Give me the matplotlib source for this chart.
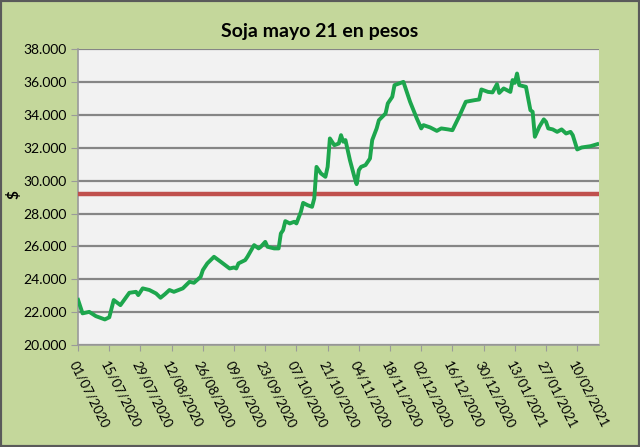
import pandas as pd
import matplotlib.pyplot as plt
import matplotlib.dates as mdates
from matplotlib.patches import Rectangle

plt.rcParams['font.family'] = ['Lato', 'DejaVu Sans']

start = pd.Timestamp('2020-07-01')

# days since 01/07/2020 and price in pesos
days = [0, 2, 5, 8, 12, 14, 16, 19, 23, 26, 27, 29, 32, 35, 37, 39, 41, 43, 47,
        50, 52, 55, 56, 58, 61, 64, 68, 70, 71, 72, 75, 76, 79, 81, 82, 84, 85,
        88, 90, 91, 92, 93, 95, 97, 98, 100, 101, 103, 105, 106, 107, 109, 111,
        112, 113, 115, 117, 118, 119, 120, 122, 124, 125, 126, 127, 129, 131,
        132, 134, 135, 138, 139, 141, 142, 146, 149, 152, 154, 155, 158, 161,
        163, 166, 168, 171, 174, 178, 180, 181, 184, 186, 188, 189, 191, 194,
        195, 196, 197, 198, 201, 203, 204, 205, 207, 209, 210, 211, 213, 215,
        217, 219, 221, 222, 224, 226, 230, 233]
precio = [22750, 21930, 22020, 21760, 21560, 21690, 22740, 22430, 23180, 23240,
          23040, 23450, 23350, 23140, 22880, 23100, 23350, 23240, 23450, 23850,
          23790, 24150, 24560, 24970, 25370, 25070, 24660, 24720, 24660, 24970,
          25170, 25370, 26080, 25880, 25980, 26280, 25980, 25880, 25880, 26790,
          26990, 27540, 27400, 27500, 27400, 28110, 28650, 28510, 28410, 28920,
          30840, 30440, 30235, 30840, 32570, 32160, 32260, 32770, 32370, 32470,
          31250, 30235, 29790, 30640, 30840, 30950, 31350, 32470, 33180, 33680,
          34090, 34700, 35100, 35810, 36010, 34800, 33790, 33180, 33380, 33240,
          33030, 33180, 33120, 33070, 33900, 34800, 34900, 34940, 35550, 35400,
          35370, 35870, 35340, 35610, 35400, 36120, 35950, 36520, 35810, 35710,
          34290, 34190, 32670, 33280, 33730, 33580, 33180, 33120, 32970, 33120,
          32870, 32970, 32770, 31900, 32020, 32100, 32220]
referencia = 29200

fechas = [start + pd.Timedelta(days=d) for d in days]

fig = plt.figure(figsize=(6.4, 4.47), dpi=100, facecolor='#c4d79b')
fig.patches.append(Rectangle((0, 0), 1, 1, transform=fig.transFigure,
                             fill=False, edgecolor='#5a5a5a', linewidth=3))
ax = fig.add_axes([0.122, 0.228, 0.814, 0.662])
ax.set_facecolor('#f2f2f2')

ax.axhline(referencia, color='#c0504d', linewidth=3.2, zorder=3)
ax.plot(fechas, precio, color='#1da64d', linewidth=2.8, zorder=4,
        solid_joinstyle='round')

ax.set_ylim(20000, 38000)
ax.set_yticks(range(20000, 38001, 2000))
ax.set_yticklabels([f'{v // 1000}.000' for v in range(20000, 38001, 2000)])
ax.set_xlim(start, start + pd.Timedelta(days=233.8))
ticks = [start + pd.Timedelta(days=14 * i) for i in range(17)]
ax.set_xticks(ticks)
ax.xaxis.set_major_formatter(mdates.DateFormatter('%d/%m/%Y'))
for lab in ax.get_xticklabels():
    lab.set_rotation(-63)
    lab.set_ha('left')
    lab.set_va('top')
    lab.set_rotation_mode('anchor')

ax.grid(axis='y', color='#868686', linewidth=1.6, zorder=1)
ax.set_axisbelow(True)
for s in ['top', 'right']:
    ax.spines[s].set_visible(False)
for s in ['left', 'bottom']:
    ax.spines[s].set_color('#9a9a9a')
    ax.spines[s].set_linewidth(1.2)
ax.tick_params(axis='y', length=5, color='#9a9a9a', labelsize=10, pad=3)
ax.tick_params(axis='x', length=4, color='#9a9a9a', labelsize=9.5, pad=6)

fig.text(0.022, 0.564, '$', rotation=90, ha='center', va='center',
         fontsize=11, fontweight='bold')
fig.text(0.5, 0.93, 'Soja mayo 21 en pesos', ha='center', va='center',
         fontsize=14, fontweight='bold')

fig.savefig('out.png', dpi=100, facecolor=fig.get_facecolor())
